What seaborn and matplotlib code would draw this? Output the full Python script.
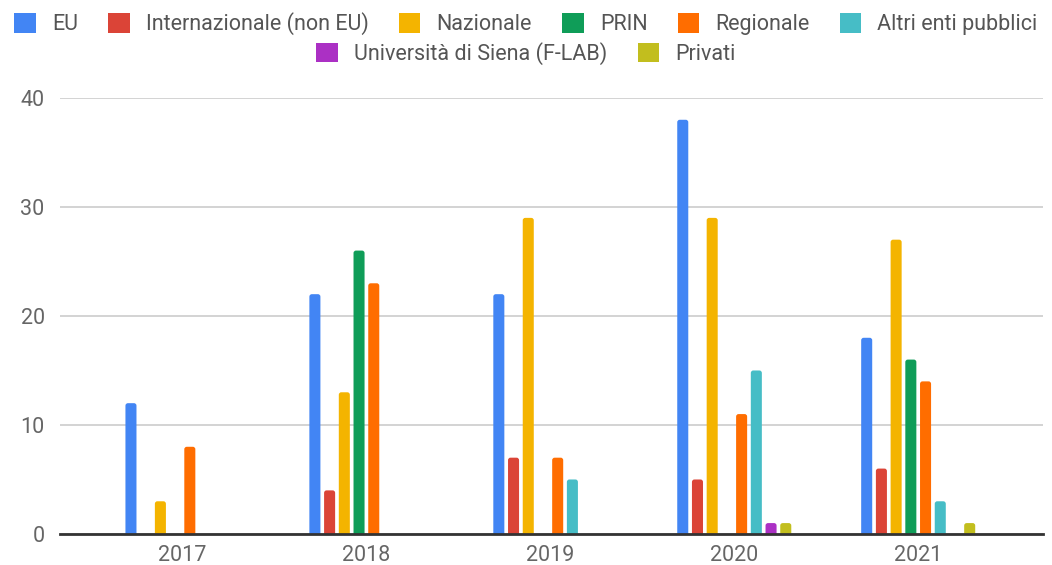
import matplotlib
matplotlib.use("Agg")
import matplotlib.pyplot as plt
import seaborn as sns
import pandas as pd
from matplotlib.patches import Patch, FancyBboxPatch

years = ["2017", "2018", "2019", "2020", "2021"]
series = ["EU", "Internazionale (non EU)", "Nazionale", "PRIN", "Regionale",
          "Altri enti pubblici", "Università di Siena (F-LAB)", "Privati"]
eu = [12, 22, 22, 38, 18]
internazionale = [0, 4, 7, 5, 6]
nazionale = [3, 13, 29, 29, 27]
prin = [0, 26, 0, 0, 16]
regionale = [8, 23, 7, 11, 14]
altri = [0, 0, 5, 15, 3]
siena = [0, 0, 0, 1, 0]
privati = [0, 0, 0, 1, 1]
colors = ["#4285F4", "#DB4437", "#F4B400", "#0F9D58", "#FF6D00",
          "#46BDC6", "#AB30C4", "#C2BE1E"]

values = [eu, internazionale, nazionale, prin, regionale, altri, siena, privati]
rows = []
for s, vals in zip(series, values):
    for y, v in zip(years, vals):
        rows.append({"Anno": y, "Fonte": s, "Valore": v})
df = pd.DataFrame(rows)

sns.set_theme(style="white")
plt.rcParams["font.family"] = ["Roboto", "DejaVu Sans"]

fig = plt.figure(figsize=(10.52, 5.65), dpi=100)
ax = fig.add_axes([0.057, 0.0549, 0.934, 0.7717])

sns.barplot(data=df, x="Anno", y="Valore", hue="Fonte", hue_order=series,
            palette=colors, saturation=1, width=0.64, gap=0.25, linewidth=0, ax=ax,
            legend=False, errorbar=None)

ax.set_xlim(-0.666, 4.676)
ax.set_ylim(0, 40)

# round the top corners of the bars (Google-Charts look)
fig.canvas.draw()
px_x = ax.transData.transform((1, 0))[0] - ax.transData.transform((0, 0))[0]
px_y = ax.transData.transform((0, 1))[1] - ax.transData.transform((0, 0))[1]
r_px = 2.5
for p in list(ax.patches):
    x, y0 = p.get_x(), p.get_y()
    w, h = p.get_width(), p.get_height()
    fc = p.get_facecolor()
    p.remove()
    if h <= 0:
        continue
    ext = 1.0
    fb = FancyBboxPatch((x, y0 - ext), w, h + ext,
                        boxstyle=f"round,pad=0,rounding_size={r_px / px_x}",
                        mutation_aspect=px_x / px_y, facecolor=fc,
                        edgecolor="none", linewidth=0, zorder=2)
    ax.add_patch(fb)

ax.set_yticks([0, 10, 20, 30, 40])
ax.yaxis.grid(True, color="#cccccc", linewidth=1.2, zorder=0)
ax.set_axisbelow(True)
for sp in ["left", "right", "top"]:
    ax.spines[sp].set_visible(False)
ax.spines["bottom"].set_color("#333333")
ax.spines["bottom"].set_linewidth(2)
ax.spines["bottom"].set_zorder(5)
ax.set_xlabel("")
ax.set_ylabel("")
ax.tick_params(axis="both", length=0, labelsize=15.5, labelcolor="#666666")
ax.tick_params(axis="y", pad=11)
ax.tick_params(axis="x", pad=8)

handles = [Patch(facecolor=c, edgecolor="none") for c in colors]
common = dict(loc="center", frameon=False, fontsize=15.5, handlelength=1.0,
              handleheight=1.0, handletextpad=0.75, columnspacing=1.4,
              labelcolor="#555555")
leg1 = fig.legend(handles[:6], series[:6], bbox_to_anchor=(0.5, 1 - 24 / 565),
                  ncol=6, **common)
leg2 = fig.legend(handles[6:], series[6:], bbox_to_anchor=(0.5, 1 - 53.5 / 565),
                  ncol=2, **common)

fig.savefig("out.png", dpi=100)
